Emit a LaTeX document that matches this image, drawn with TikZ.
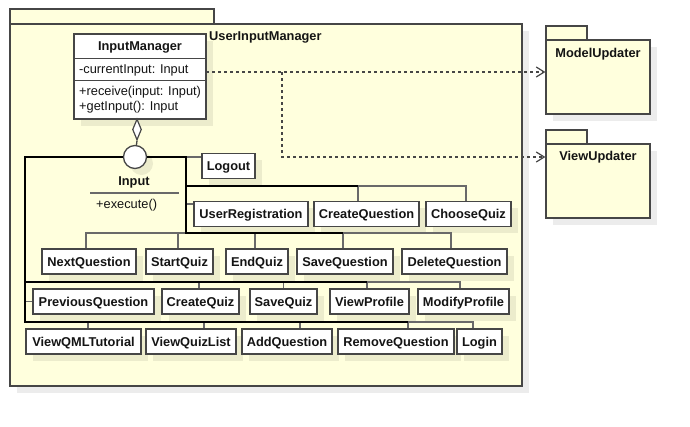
\documentclass[tikz,border=0pt]{standalone}
\usepackage{fontspec}
\setmainfont{Liberation Sans}
\usetikzlibrary{shapes.geometric,arrows.meta,shadows}
\definecolor{umlfill}{RGB}{255,255,221}
\definecolor{umlline}{RGB}{70,70,70}
\definecolor{connline}{RGB}{105,105,105}
\definecolor{umltext}{RGB}{20,20,20}
\tikzset{
  shadowed/.style={drop shadow={fill=black, opacity=0.075, shadow xshift=6.5pt, shadow yshift=-6.5pt}},
  boldtxt/.style={font=\fontsize{12.8}{15}\selectfont\bfseries, text=umltext, inner sep=0pt},
  regtxt/.style={font=\fontsize{12.8}{15}\selectfont, text=umltext, inner sep=0pt},
  cls/.style={draw=umlline, line width=1.3pt, fill=white, minimum height=25pt, inner sep=0pt, boldtxt, text height=9.2pt, text depth=0pt, shadowed},
  bigcls/.style={draw=umlline, line width=1.3pt, fill=white, inner sep=0pt, shadowed},
  pkgbody/.style={draw=umlline, line width=1.3pt, fill=umlfill, inner sep=0pt},
  pkgtab/.style={draw=umlline, line width=1.3pt, fill=umlfill},
  conn/.style={draw=connline, line width=1.3pt},
  thickconn/.style={draw=black, line width=2.3pt},
  dep/.style={draw=umlline, line width=1.2pt, dash pattern=on 3pt off 3pt, -{Straight Barb[length=8pt,width=10pt,line width=1.2pt]}},
  sepline/.style={draw=connline, line width=1.4pt},
}
\newcommand{\umlbox}[5]{\node[cls, minimum width=#4pt] (#1) at (#2,#3) {#5};}
\begin{document}
\begin{tikzpicture}[x=1pt,y=-1pt]
\useasboundingbox (0,0) rectangle (690,426);
% outer package
\draw[pkgtab] (10,9) rectangle (214,24);
\node[pkgbody, shadowed, minimum width=512pt, minimum height=362pt] (uim) at (266,205) {};
\node[boldtxt, anchor=west] (uimlabel) at (209,37) {UserInputManager};
% other packages
\draw[pkgtab] (546,26) rectangle (587,40);
\node[pkgbody, shadowed, minimum width=104pt, minimum height=74pt] (mu) at (598,77) {};
\node[boldtxt] (mulabel) at (598,54) {ModelUpdater};
\draw[pkgtab] (546,130) rectangle (587,144);
\node[pkgbody, shadowed, minimum width=104pt, minimum height=74pt] (vu) at (598,181) {};
\node[boldtxt] (vulabel) at (598,157) {ViewUpdater};
% InputManager class
\node[bigcls, minimum width=132pt, minimum height=85pt] (im) at (140,76.5) {};
\draw[draw=umlline, line width=1.2pt] ([yshift=-25pt]im.north west) -- ([yshift=-25pt]im.north east);
\draw[draw=umlline, line width=1.2pt] ([yshift=-47pt]im.north west) -- ([yshift=-47pt]im.north east);
\node[boldtxt] (imtitle) at (140,47) {InputManager};
\node[regtxt, anchor=west] (imattr) at (79,70) {-currentInput: Input};
\node[regtxt, anchor=west] (imop1) at (79,92.5) {+receive(input: Input)};
\node[regtxt, anchor=west] (imop2) at (79,107.5) {+getInput(): Input};
% dependencies
\coordinate (d0) at (206,72);
\coordinate (d1) at (282,72);
\coordinate (d2) at (282,157);
\draw[dep] (d0) -- (d0 -| mu.west);
\draw[dep] (d1) -- (d2) -- (d2 -| vu.west);
% interface Input
\node[boldtxt] (inp) at (134,182) {Input};
\coordinate (s0) at (90,193);
\coordinate (s1) at (179,193);
\draw[sepline] (s0) -- (s1);
\node[regtxt, anchor=west] (exe) at (96,205) {+execute()};
% implementing classes
\umlbox{lo}{228.5}{166}{53}{Logout}
\umlbox{ur}{251}{214}{114}{UserRegistration}
\umlbox{cq}{366.5}{214}{105}{CreateQuestion}
\umlbox{cz}{468.5}{214}{85}{ChooseQuiz}
\umlbox{nq}{89}{261.5}{94}{NextQuestion}
\umlbox{sq}{179.5}{261.5}{67}{StartQuiz}
\umlbox{eq}{257}{261.5}{62}{EndQuiz}
\umlbox{sv}{345}{261.5}{96}{SaveQuestion}
\umlbox{dq}{454.5}{261.5}{105}{DeleteQuestion}
\umlbox{pq}{93.5}{301.5}{121}{PreviousQuestion}
\umlbox{cqz}{200.5}{301.5}{77}{CreateQuiz}
\umlbox{svz}{283.5}{301.5}{67}{SaveQuiz}
\umlbox{vp}{369.5}{301.5}{79}{ViewProfile}
\umlbox{mp}{463.5}{301.5}{91}{ModifyProfile}
\umlbox{vqt}{83.5}{341.5}{115}{ViewQMLTutorial}
\umlbox{vql}{191}{341.5}{90}{ViewQuizList}
\umlbox{aq}{287}{341.5}{90}{AddQuestion}
\umlbox{rq}{396}{341.5}{116}{RemoveQuestion}
\umlbox{lg}{479.5}{341.5}{45}{Login}
% junctions
\coordinate (bL0) at (25,157);
\coordinate (bL4) at (25,322);
\coordinate (b4e) at (408,322);
\coordinate (b3s) at (25,282);
\coordinate (b3e) at (367,282);
\coordinate (bR0) at (186,157);
\coordinate (bR2) at (186,233);
\coordinate (b2e) at (343,233);
\coordinate (b1s) at (186,186);
\coordinate (b1e) at (358,186);
% thin connectors
\draw[conn] (bR0) -- (bR0 -| lo.west);
\draw[conn] ([yshift=10pt]ur.west) -- ([yshift=10pt]ur.west -| bR0);
\draw[conn] (b1e) -- ([xshift=-8.5pt]cq.north);
\draw[conn] (b1e) -| ([xshift=-2.5pt]cz.north);
\draw[conn] (bR2) -| ([xshift=-3pt]nq.north);
\draw[conn] (bR2) -| ([xshift=-1.5pt]sq.north);
\draw[conn] (bR2) -| ([xshift=-2pt]eq.north);
\draw[conn] (bR2) -| ([xshift=-2pt]sv.north);
\draw[conn] (bR2) -| ([xshift=-3.5pt]dq.north);
\draw[conn] (bL4 |- pq.west) -- (pq.west);
\draw[conn] (b3s) -| ([xshift=-1.5pt]cqz.north);
\draw[conn] (b3s) -| (svz.north);
\draw[conn] (b3s) -| ([xshift=-2.5pt]vp.north);
\draw[conn] (b3s) -| ([xshift=-3.5pt]mp.north);
\draw[conn] (bL4) -| ([xshift=4.5pt]vqt.north);
\draw[conn] (bL4) -| ([xshift=13pt]vql.north);
\draw[conn] (bL4) -| ([xshift=13pt]aq.north);
\draw[conn] (bL4) -| ([xshift=12pt]rq.north);
\draw[conn] (bL4) -| ([xshift=-6.5pt]lg.north);
% lollipop and aggregation
\node[circle, draw=umlline, line width=1.3pt, fill=white, minimum size=23pt, inner sep=0pt, shadowed] (ifc) at (135,157) {};
\node[diamond, draw=umlline, line width=1.2pt, fill=white, minimum width=9pt, minimum height=21pt, inner sep=0pt] (agg) at (137,129.5) {};
\draw[conn, draw=umlline] (agg.south) -- (ifc);
% thick realization lines
\draw[thickconn] (ifc.west) -- (bL0) -- (bL4) -- (b4e);
\draw[thickconn] (b3s) -- (b3e);
\draw[thickconn] (ifc.east) -- (bR0) -- (bR2) -- (b2e);
\draw[thickconn] (b1s) -- (b1e);
\end{tikzpicture}
\end{document}
